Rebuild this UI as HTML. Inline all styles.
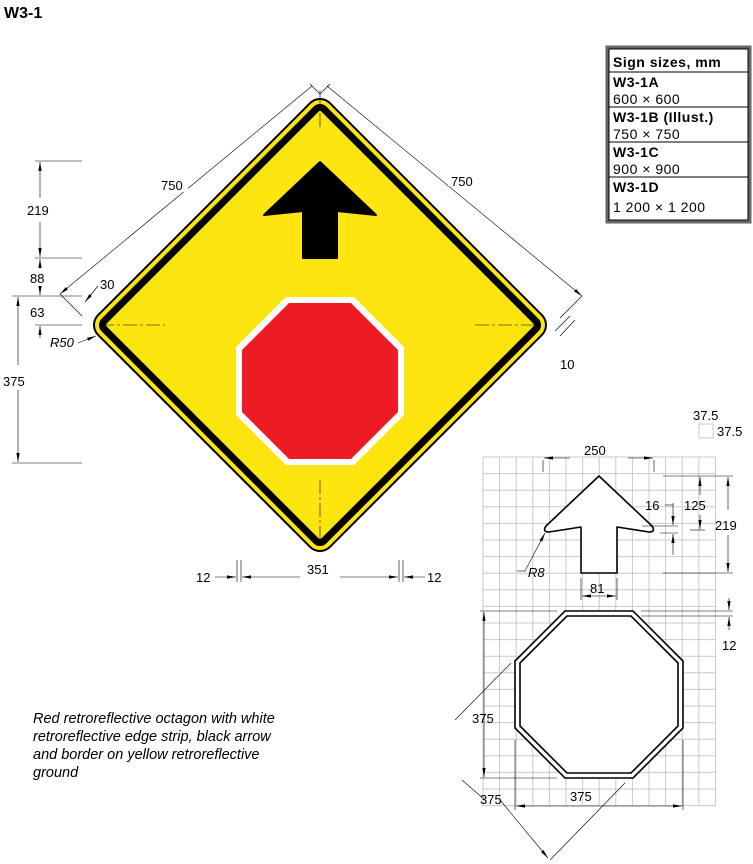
<!DOCTYPE html>
<html><head><meta charset="utf-8"><style>
body{margin:0;background:#fff;width:753px;height:864px;overflow:hidden}
svg{display:block;font-family:"Liberation Sans",sans-serif}
.d{stroke:#000;stroke-width:.6;fill:none}
.t{font-size:13px;fill:#000}
.g{stroke:#c8c8c8;stroke-width:1}
</style></head><body>
<svg width="753" height="864" viewBox="0 0 753 864">
<defs><marker id="a" markerUnits="userSpaceOnUse" viewBox="0 0 10 10" refX="10" refY="5" markerWidth="9" markerHeight="9" orient="auto-start-reverse"><path d="M0,3.2L10,5L0,6.8z" fill="#000"/></marker></defs>
<text x="4" y="18" font-size="16" font-weight="bold">W3-1</text>

<g>
<path d="M320,113 L532,325 L320,537 L108,325Z" fill="#000" stroke="#000" stroke-width="30" stroke-linejoin="round"/>
<path d="M320,113 L532,325 L320,537 L108,325Z" fill="#fde50f" stroke="#fde50f" stroke-width="26" stroke-linejoin="round"/>
<path d="M320,113 L532,325 L320,537 L108,325Z" fill="#000" stroke="#000" stroke-width="18" stroke-linejoin="round"/>
<path d="M320,113 L532,325 L320,537 L108,325Z" fill="#fde50f" stroke="#fde50f" stroke-width="4" stroke-linejoin="round"/>
<path d="M320,162 L376,215 L337,211 L337,258 L303,258 L303,211 L264,215Z" fill="#000" stroke="#000" stroke-width="2" stroke-linejoin="round"/>
<polygon points="286,297 354,297 404,347 404,415 354,465 286,465 236,415 236,347" fill="#fff"/>
<polygon points="289,303 351,303 398,350 398,412 351,459 289,459 242,412 242,350" fill="#ed1c24"/>
<g class="d" stroke-dasharray="14,3,3,3"><line x1="320" y1="90" x2="320" y2="130"/><line x1="320" y1="480" x2="320" y2="540"/><line x1="100" y1="325" x2="165" y2="325"/><line x1="475" y1="325" x2="540" y2="325"/></g>
</g>

<g>
<line class="d" x1="60" y1="294" x2="312" y2="86" marker-start="url(#a)"/>
<line class="d" x1="60" y1="294" x2="82" y2="316"/>
<line class="d" x1="327" y1="86" x2="582" y2="296" marker-end="url(#a)"/>
<line class="d" x1="582" y1="296" x2="560" y2="318"/>
<line class="d" x1="310" y1="84" x2="320" y2="94"/><line class="d" x1="330" y1="84" x2="320" y2="94"/>
<rect x="158" y="178" width="30" height="14" fill="#fff"/><text class="t" x="161" y="190">750</text>
<rect x="448" y="172" width="30" height="14" fill="#fff"/><text class="t" x="451" y="186">750</text>
<line class="d" x1="35" y1="161" x2="82" y2="161"/><line class="d" x1="35" y1="258" x2="82" y2="258"/>
<line class="d" x1="12" y1="296" x2="82" y2="296"/><line class="d" x1="35" y1="325" x2="82" y2="325"/>
<line class="d" x1="12" y1="463" x2="82" y2="463"/>
<line class="d" x1="40" y1="162" x2="40" y2="198" marker-start="url(#a)"/><line class="d" x1="40" y1="222" x2="40" y2="257" marker-end="url(#a)"/>
<text class="t" x="27" y="215">219</text>
<line class="d" x1="40" y1="259" x2="40" y2="268" marker-start="url(#a)"/><text class="t" x="30" y="283">88</text>
<line class="d" x1="40" y1="286" x2="40" y2="295" marker-end="url(#a)"/><text class="t" x="30" y="317">63</text>
<line class="d" x1="40" y1="326" x2="40" y2="338" marker-start="url(#a)"/>
<line class="d" x1="18" y1="297" x2="18" y2="365" marker-start="url(#a)"/><line class="d" x1="18" y1="390" x2="18" y2="462" marker-end="url(#a)"/>
<text class="t" x="3" y="386">375</text>
<text class="t" x="100" y="289">30</text><line class="d" x1="98" y1="286" x2="85" y2="302" marker-end="url(#a)"/>
<text class="t" x="50" y="347" font-style="italic">R50</text><line class="d" x1="78" y1="343" x2="96" y2="336" marker-end="url(#a)"/>
<line class="d" x1="575" y1="320" x2="560" y2="336"/><line class="d" x1="570" y1="316" x2="555" y2="331"/>
<text class="t" x="560" y="369">10</text>
<line class="d" x1="237" y1="560" x2="237" y2="582"/><line class="d" x1="241" y1="560" x2="241" y2="582"/>
<line class="d" x1="399" y1="560" x2="399" y2="582"/><line class="d" x1="403" y1="560" x2="403" y2="582"/>
<line class="d" x1="242" y1="577" x2="300" y2="577" marker-start="url(#a)"/><line class="d" x1="340" y1="577" x2="398" y2="577" marker-end="url(#a)"/>
<text class="t" x="307" y="574">351</text>
<line class="d" x1="215" y1="577" x2="236" y2="577" marker-end="url(#a)"/><text class="t" x="196" y="582">12</text>
<line class="d" x1="404" y1="577" x2="425" y2="577" marker-start="url(#a)"/><text class="t" x="427" y="582">12</text>
</g>

<g>
<rect x="607" y="47" width="143" height="175" fill="#fff" stroke="#666" stroke-width="3"/>
<rect x="609" y="49" width="139" height="171" fill="none" stroke="#000" stroke-width="1"/>
<g stroke="#000" stroke-width="1"><line x1="609" y1="72" x2="748" y2="72"/><line x1="609" y1="107" x2="748" y2="107"/><line x1="609" y1="142" x2="748" y2="142"/><line x1="609" y1="177" x2="748" y2="177"/></g>
<g font-size="14" letter-spacing=".5">
<text x="613" y="67" font-weight="bold">Sign sizes, mm</text>
<text x="613" y="87" font-weight="bold">W3-1A</text><text x="613" y="104">600 × 600</text>
<text x="613" y="122" font-weight="bold">W3-1B (Illust.)</text><text x="613" y="139">750 × 750</text>
<text x="613" y="157" font-weight="bold">W3-1C</text><text x="613" y="174">900 × 900</text>
<text x="613" y="192" font-weight="bold">W3-1D</text><text x="613" y="212">1 200 × 1 200</text>
</g></g>

<g>
<g id="grid"></g>
<rect x="699" y="424" width="14" height="14" fill="#fff" stroke="#c8c8c8"/>
<text class="t" x="693" y="420">37.5</text><text class="t" x="717" y="436">37.5</text>
<path d="M599,476 L652,526 Q656,532 649,532 L617,527 L617,573 L581,573 L581,527 L549,532 Q542,532 546,526Z" fill="#fff" stroke="#000" stroke-width="1.6" stroke-linejoin="round"/>
<polygon points="565,611 633,611 683,661 683,728 633,778 565,778 515,728 515,661" fill="#fff" stroke="#000" stroke-width="1.6"/>
<polygon points="567,616 631,616 678,663 678,726 631,773 567,773 520,726 520,663" fill="none" stroke="#000" stroke-width="1.6"/>
<g class="d">
<line x1="543" y1="460" x2="543" y2="472"/><line x1="654" y1="460" x2="654" y2="472"/>
<line x1="544" y1="458" x2="570" y2="458" marker-start="url(#a)"/><line x1="628" y1="458" x2="653" y2="458" marker-end="url(#a)"/>
<line x1="663" y1="476" x2="733" y2="476"/><line x1="663" y1="573" x2="733" y2="573"/><line x1="690" y1="530" x2="705" y2="530"/>
<line x1="700" y1="477" x2="700" y2="495" marker-start="url(#a)"/><line x1="700" y1="515" x2="700" y2="529" marker-end="url(#a)"/>
<line x1="728" y1="477" x2="728" y2="510" marker-start="url(#a)"/><line x1="728" y1="535" x2="728" y2="572" marker-end="url(#a)"/>
<line x1="642" y1="526" x2="678" y2="526"/><line x1="660" y1="533" x2="678" y2="533"/>
<line x1="673" y1="503" x2="673" y2="525" marker-end="url(#a)"/><line x1="673" y1="534" x2="673" y2="555" marker-start="url(#a)"/>
<line x1="665" y1="505" x2="673" y2="505"/>
<line x1="517" y1="571" x2="525" y2="571"/><line x1="525" y1="571" x2="545" y2="533" marker-end="url(#a)"/>
<line x1="581" y1="578" x2="581" y2="600"/><line x1="617" y1="578" x2="617" y2="600"/>
<line x1="582" y1="596" x2="616" y2="596" marker-start="url(#a)" marker-end="url(#a)"/>
<line x1="480" y1="611" x2="557" y2="611"/><line x1="641" y1="611" x2="733" y2="611"/><line x1="641" y1="616" x2="733" y2="616"/>
<line x1="729" y1="598" x2="729" y2="610" marker-end="url(#a)"/><line x1="729" y1="617" x2="729" y2="630" marker-start="url(#a)"/>
<line x1="480" y1="778" x2="557" y2="778"/>
<line x1="484" y1="612" x2="484" y2="777" marker-start="url(#a)" marker-end="url(#a)"/>
<line x1="515" y1="740" x2="515" y2="810"/><line x1="683" y1="740" x2="683" y2="810"/>
<line x1="516" y1="806" x2="682" y2="806" marker-start="url(#a)" marker-end="url(#a)"/>
<line x1="511" y1="663" x2="455" y2="720"/>
<line x1="500" y1="800" x2="548" y2="858" marker-end="url(#a)"/>
<line x1="625" y1="783" x2="550" y2="860"/>
<line x1="462" y1="780" x2="485" y2="800"/>
</g>
<text class="t" x="584" y="455">250</text><text class="t" x="684" y="510">125</text><text class="t" x="715" y="530">219</text>
<text class="t" x="645" y="510">16</text><text class="t" x="528" y="577" font-style="italic">R8</text>
<text class="t" x="590" y="593">81</text><text class="t" x="722" y="650">12</text>
<text class="t" x="472" y="723">375</text><text class="t" x="480" y="804">375</text><text class="t" x="570" y="801">375</text>
</g>

<text font-size="14.5" font-style="italic" fill="#000"><tspan x="33" y="723">Red retroreflective octagon with white</tspan><tspan x="33" y="741">retroreflective edge strip, black arrow</tspan><tspan x="33" y="759">and border on yellow retroreflective</tspan><tspan x="33" y="777">ground</tspan></text>
</svg>
<script>
var g=document.getElementById('grid'),ns='http://www.w3.org/2000/svg';
var x0=483,y0=457,c=16.6,nx=14,ny=21;
for(var i=0;i<=nx;i++){var l=document.createElementNS(ns,'line');


l.setAttribute('class','g');l.setAttribute('x1',x0+i*c);l.setAttribute('x2',x0+i*c);l.setAttribute('y1',y0);l.setAttribute('y2',y0+ny*c);g.appendChild(l);}
for(var j=0;j<=ny;j++){var m=document.createElementNS(ns,'line');


m.setAttribute('class','g');m.setAttribute('y1',y0+j*c);m.setAttribute('y2',y0+j*c);m.setAttribute('x1',x0);m.setAttribute('x2',x0+nx*c);g.appendChild(m);}
</script>
</body></html>
